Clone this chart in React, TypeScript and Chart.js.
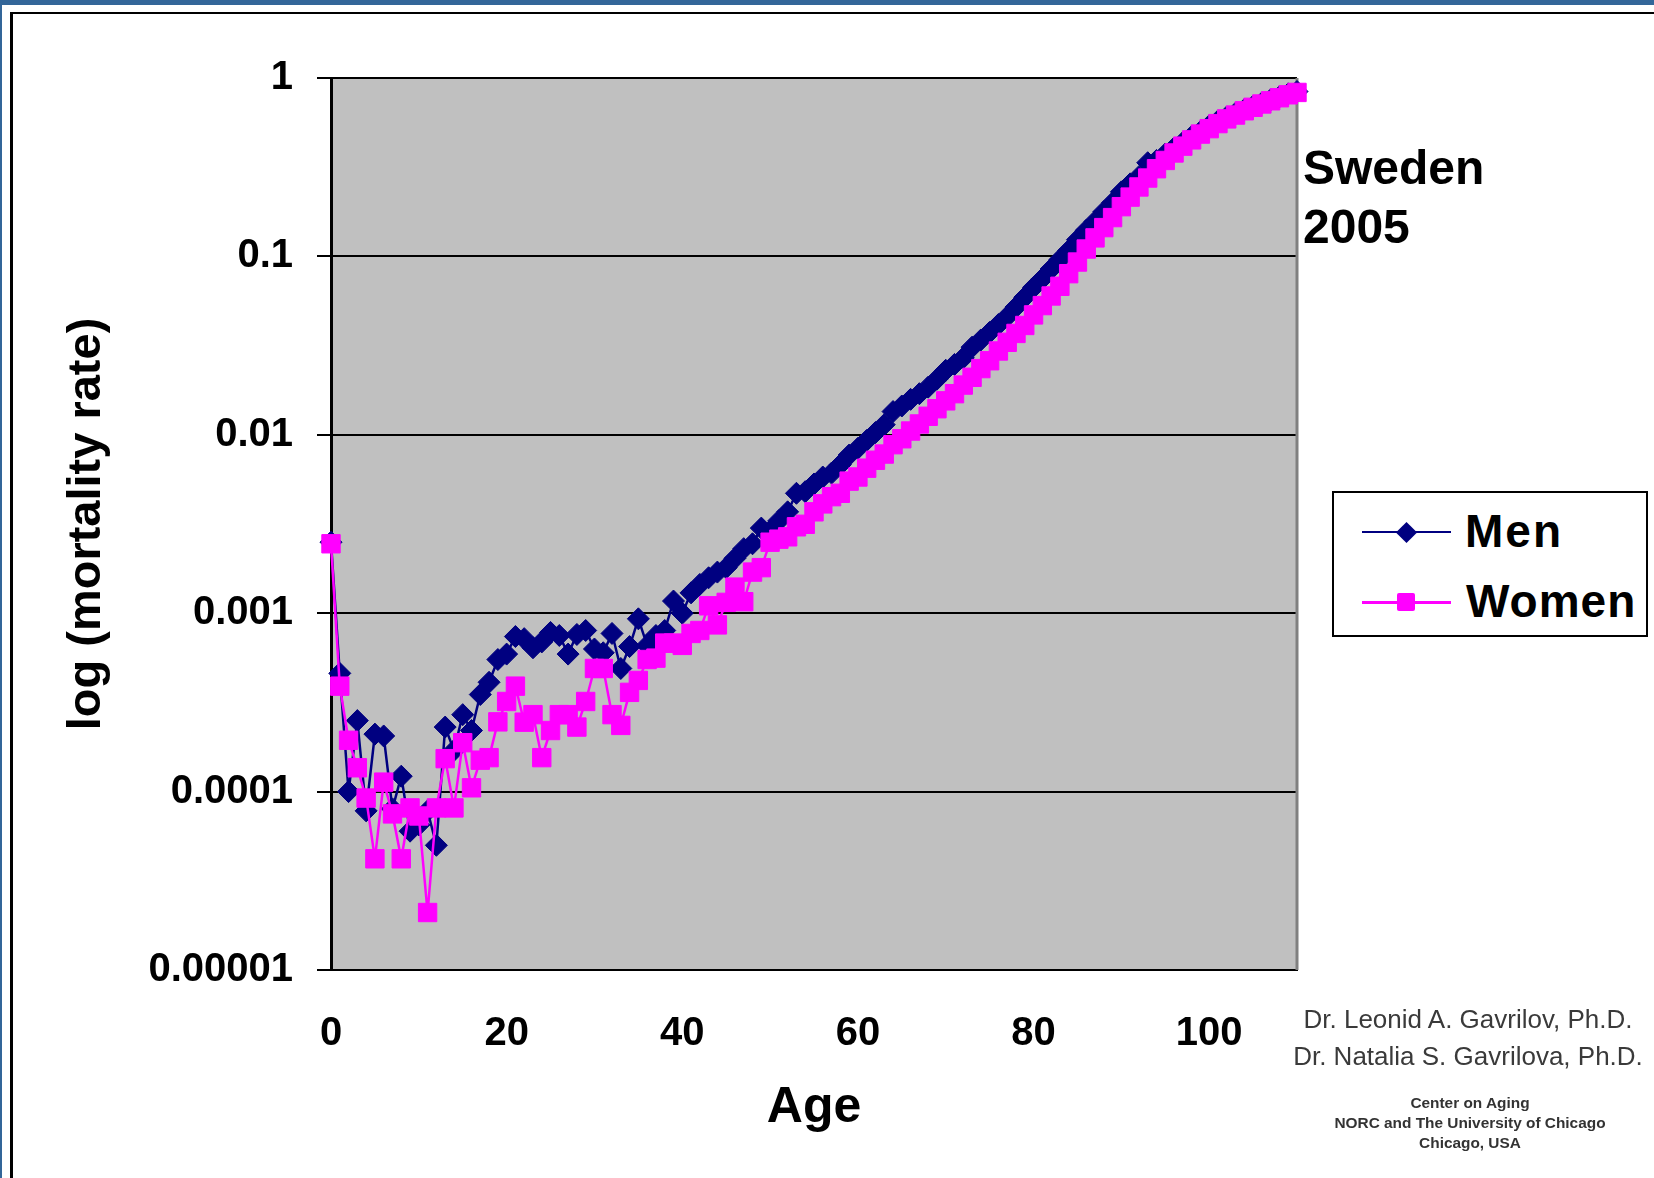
import React, { useEffect, useRef } from "react";
import { Chart, registerables } from "chart.js";

Chart.register(...registerables);

const FONT = "'Liberation Sans', Arial, Helvetica, sans-serif";

const AGES: number[] = Array.from({ length: 111 }, (_, i) => i);

const MEN: number[] = [
  0.0025, 0.00046, 0.0001, 0.00025, 0.000078, 0.00021, 0.000205, 0.00008, 0.000122, 0.00006,
  0.000065, 0.000078, 0.00005, 0.00023, 0.00017, 0.00027, 0.00022, 0.00035, 0.00041, 0.00055,
  0.00059, 0.00074, 0.00072, 0.00064, 0.00069, 0.00078, 0.00075, 0.00059, 0.00076, 0.0008,
  0.00063, 0.0006, 0.00077, 0.00049, 0.00065, 0.00093, 0.00066, 0.00075, 0.0008, 0.00117,
  0.001, 0.0013, 0.00145, 0.00158, 0.0017, 0.0018, 0.00203, 0.0023, 0.00245, 0.003,
  0.0029, 0.0033, 0.0037, 0.0047, 0.0048, 0.0053, 0.0058, 0.0061, 0.0068, 0.0077,
  0.0084, 0.0093, 0.0103, 0.0114, 0.0135, 0.0145, 0.0158, 0.017, 0.0185, 0.0205,
  0.023, 0.0248, 0.027, 0.031, 0.034, 0.0375, 0.0415, 0.046, 0.052, 0.059,
  0.067, 0.075, 0.085, 0.096, 0.108, 0.124, 0.14, 0.157, 0.178, 0.2,
  0.23, 0.255, 0.28, 0.335, 0.345, 0.375, 0.405, 0.435, 0.47, 0.5,
  0.54, 0.575, 0.605, 0.635, 0.665, 0.695, 0.725, 0.755, 0.785, 0.815,
  0.84,
];

const WOMEN: number[] = [
  0.00245, 0.00039, 0.000194, 0.000136, 0.000092, 0.000042, 0.000113, 0.000075, 0.000042, 0.000081,
  0.000073, 0.000021, 0.000081, 0.000153, 0.000081, 0.000188, 0.000105, 0.00015, 0.000155, 0.000246,
  0.00032, 0.00039, 0.000245, 0.00027, 0.000155, 0.00022, 0.00027, 0.00027, 0.00023, 0.00032,
  0.00049, 0.00049, 0.00027, 0.000235, 0.00036, 0.00042, 0.00055, 0.00056, 0.00068, 0.00068,
  0.00066, 0.00077, 0.0008, 0.0011, 0.00086, 0.00115, 0.0014, 0.00116, 0.0017, 0.0018,
  0.0025, 0.0026, 0.00268, 0.00305, 0.00315, 0.0037, 0.0041, 0.0045, 0.0047, 0.0055,
  0.0058, 0.0065, 0.0072, 0.0078, 0.0088, 0.0095, 0.0105, 0.0115, 0.0127, 0.014,
  0.0155, 0.017, 0.019, 0.021, 0.0235, 0.026, 0.0295, 0.033, 0.037, 0.041,
  0.047, 0.053, 0.06, 0.068, 0.08, 0.093, 0.11, 0.127, 0.145, 0.165,
  0.19, 0.215, 0.245, 0.275, 0.31, 0.345, 0.38, 0.415, 0.45, 0.485,
  0.52, 0.555, 0.59, 0.62, 0.655, 0.685, 0.715, 0.745, 0.775, 0.805,
  0.83,
];

const X_TICKS: number[] = [0, 20, 40, 60, 80, 100];
const Y_TICKS: number[] = [0.00001, 0.0001, 0.001, 0.01, 0.1, 1];
const Y_TICK_LABELS: string[] = ["0.00001", "0.0001", "0.001", "0.01", "0.1", "1"];

const plotBackground = {
  id: "plotBackground",
  beforeDraw(chart: any) {
    const { ctx, chartArea } = chart;
    if (!chartArea) return;
    const { left, top, right, bottom } = chartArea;
    ctx.save();
    ctx.fillStyle = "#C0C0C0";
    ctx.fillRect(left, top, right - left, bottom - top);
    ctx.restore();
  },
  beforeDatasetsDraw(chart: any) {
    const { ctx, chartArea } = chart;
    const { top, right, bottom } = chartArea;
    ctx.save();
    ctx.strokeStyle = "#808080";
    ctx.lineWidth = 3;
    ctx.beginPath();
    ctx.moveTo(right, top);
    ctx.lineTo(right, bottom);
    ctx.stroke();
    ctx.restore();
  },
};

export default function App() {
  const ref = useRef<HTMLCanvasElement | null>(null);

  useEffect(() => {
    if (!ref.current) return;
    const chart = new Chart(ref.current, {
      type: "line",
      data: {
        datasets: [
          {
            label: "Men",
            data: MEN.map((y, i) => ({ x: AGES[i], y })),
            borderColor: "#000080",
            backgroundColor: "#000080",
            borderWidth: 2.5,
            pointStyle: "rectRot",
            pointRadius: 11,
            pointBorderWidth: 1,
            pointBackgroundColor: "#000080",
            pointBorderColor: "#000080",
            tension: 0,
            order: 1,
            clip: false,
          } as any,
          {
            label: "Women",
            data: WOMEN.map((y, i) => ({ x: AGES[i], y })),
            borderColor: "#FF00FF",
            backgroundColor: "#FF00FF",
            borderWidth: 2.5,
            pointStyle: "rect",
            pointRadius: 13,
            pointBorderWidth: 1,
            pointBackgroundColor: "#FF00FF",
            pointBorderColor: "#FF00FF",
            tension: 0,
            order: 0,
            clip: false,
          } as any,
        ],
      },
      options: {
        animation: false,
        responsive: false,
        devicePixelRatio: 1,
        events: [],
        layout: { padding: { left: 0, top: 78, right: 357, bottom: 0 } },
        plugins: {
          legend: { display: false },
          tooltip: { enabled: false },
        },
        scales: {
          x: {
            type: "linear",
            min: 0,
            max: 110,
            afterBuildTicks: (axis: any) => {
              axis.ticks = X_TICKS.map((v) => ({ value: v }));
            },
            afterFit: (scale: any) => {
              scale.height = 208;
            },
            grid: { display: false, drawTicks: false },
            border: { display: true, color: "#000", width: 2 },
            ticks: {
              color: "#000",
              padding: 40,
              maxRotation: 0,
              autoSkip: false,
              font: { family: FONT, size: 40, weight: "bold" },
              callback: (v: any) => String(v),
            },
            title: {
              display: true,
              text: "Age",
              color: "#000",
              font: { family: FONT, size: 50, weight: "bold" },
              padding: { top: 0, bottom: 40 },
            },
          },
          y: {
            type: "logarithmic",
            min: 0.00001,
            max: 1,
            afterBuildTicks: (axis: any) => {
              axis.ticks = Y_TICKS.map((v) => ({ value: v }));
            },
            afterFit: (scale: any) => {
              scale.width = 331;
            },
            grid: {
              display: true,
              color: "#000",
              lineWidth: 2,
              drawTicks: true,
              tickLength: 14,
            },
            border: { display: true, color: "#000", width: 3 },
            ticks: {
              color: "#000",
              padding: 24,
              autoSkip: false,
              font: { family: FONT, size: 40, weight: "bold" },
              callback: (v: any) => {
                const idx = Y_TICKS.findIndex((t) => Math.abs(Math.log10(t) - Math.log10(Number(v))) < 1e-6);
                return idx >= 0 ? Y_TICK_LABELS[idx] : "";
              },
            },
            title: {
              display: true,
              text: "log (mortality rate)",
              color: "#000",
              font: { family: FONT, size: 47, weight: "bold" },
              padding: { top: 59, bottom: 0 },
            },
          },
        },
      } as any,
      plugins: [plotBackground],
    });
    return () => chart.destroy();
  }, []);

  const abs: React.CSSProperties = { position: "absolute" };

  return (
    <div
      style={{
        position: "absolute",
        left: 0,
        top: 0,
        width: 1654,
        height: 1178,
        overflow: "hidden",
        background: "#fff",
        fontFamily: FONT,
        color: "#000",
      }}
    >
      <div style={{ ...abs, left: 0, top: 0, width: 1654, height: 5, background: "#336699" }} />
      <div style={{ ...abs, left: 0, top: 0, width: 2, height: 1178, background: "#336699" }} />
      <div
        style={{
          ...abs,
          left: 10,
          top: 12,
          width: 1700,
          height: 1300,
          borderLeft: "3px solid #000",
          borderTop: "2.5px solid #000",
        }}
      />
      <canvas
        ref={ref}
        width={1654}
        height={1178}
        style={{ ...abs, left: 0, top: 0, width: 1654, height: 1178 }}
      />
      <div
        style={{
          ...abs,
          left: 1303,
          top: 138,
          fontSize: 48,
          fontWeight: "bold",
          lineHeight: "59px",
          whiteSpace: "nowrap",
        }}
      >
        Sweden
        <br />
        2005
      </div>
      <div
        style={{
          ...abs,
          left: 1332,
          top: 491,
          width: 316,
          height: 146,
          boxSizing: "border-box",
          border: "2px solid #000",
          background: "#fff",
        }}
      />
      <div style={{ ...abs, left: 1362, top: 531, width: 89, height: 2, background: "#000080" }} />
      <div
        style={{
          ...abs,
          left: 1398.5,
          top: 524.5,
          width: 15,
          height: 15,
          background: "#000080",
          transform: "rotate(45deg)",
        }}
      />
      <div
        style={{
          ...abs,
          left: 1465,
          top: 508,
          fontSize: 46,
          fontWeight: "bold",
          lineHeight: 1,
          letterSpacing: 2,
          whiteSpace: "nowrap",
        }}
      >
        Men
      </div>
      <div style={{ ...abs, left: 1362, top: 600.5, width: 89, height: 3, background: "#FF00FF" }} />
      <div
        style={{ ...abs, left: 1397, top: 593, width: 18, height: 18, background: "#FF00FF", borderRadius: 2 }}
      />
      <div
        style={{
          ...abs,
          left: 1466,
          top: 577.6,
          fontSize: 46,
          fontWeight: "bold",
          lineHeight: 1,
          letterSpacing: 1,
          whiteSpace: "nowrap",
        }}
      >
        Women
      </div>
      <div
        style={{
          ...abs,
          left: 1268,
          top: 1000.7,
          width: 400,
          textAlign: "center",
          fontSize: 26,
          lineHeight: "37px",
          color: "#3a3a3a",
          whiteSpace: "nowrap",
        }}
      >
        Dr. Leonid A. Gavrilov, Ph.D.
        <br />
        Dr. Natalia S. Gavrilova, Ph.D.
      </div>
      <div
        style={{
          ...abs,
          left: 1270,
          top: 1093,
          width: 400,
          textAlign: "center",
          fontSize: 15.4,
          fontWeight: "bold",
          lineHeight: "20px",
          color: "#333",
          whiteSpace: "nowrap",
        }}
      >
        Center on Aging
        <br />
        NORC and The University of Chicago
        <br />
        Chicago, USA
      </div>
    </div>
  );
}
